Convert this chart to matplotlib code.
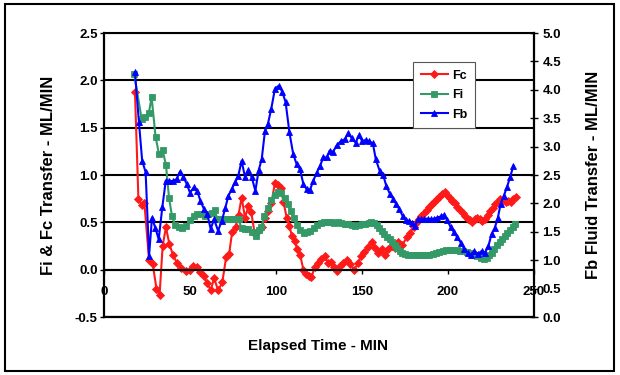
import matplotlib
matplotlib.use("Agg")
import matplotlib.pyplot as plt
from matplotlib.patches import Rectangle
from matplotlib.ticker import FormatStrFormatter, MultipleLocator

# ---------------- data ----------------
fc_t = [18.0, 20.0, 21.9, 23.5, 26.2, 28.3, 30.5, 32.3, 34.1, 36.0, 38.0, 40.2,
        42.5, 45.0, 47.5, 50.0, 52.0, 54.0, 56.0, 58.1, 60.1, 62.0, 64.0, 66.4,
        68.8, 71.0, 72.8, 74.5, 76.5, 78.2, 80.0, 82.0, 83.9, 85.6, 87.6, 89.7,
        91.7, 93.5, 95.5, 97.3, 99.4, 101.2, 102.8, 104.3, 106.2, 107.8, 109.2,
        110.8, 112.3, 114.0, 115.9, 117.5, 119.0, 120.6, 122.6, 124.5, 126.4,
        128.3, 130.3, 132.0, 133.5, 135.3, 137.2, 139.1, 141.1, 143.0, 145.5,
        147.8, 149.4, 151.3, 153.3, 155.6, 157.6, 159.5, 161.5, 163.4, 165.3,
        167.3, 169.2, 171.1, 173.4, 176.0, 178.0, 180.0, 181.5, 183.0, 184.5,
        186.0, 187.5, 189.0, 190.5, 192.0, 193.5, 195.0, 196.5, 198.0, 199.5,
        201.0, 202.5, 204.0, 205.5, 207.0, 208.5, 210.0, 211.5, 213.0, 214.0,
        215.5, 217.0, 218.5, 220.0, 221.5, 223.0, 224.5, 226.0, 227.5, 229.0,
        230.5, 232.0, 233.5, 235.0, 236.5, 238.0, 239.5]
fc_v = [1.88, 0.75, 0.68, 0.70, 0.10, 0.06, -0.20, -0.27, 0.25, 0.45, 0.27, 0.15,
        0.07, 0.02, -0.01, 0.00, 0.04, 0.03, -0.02, -0.07, -0.14, -0.22, -0.09, -0.22,
        -0.13, 0.13, 0.17, 0.40, 0.45, 0.58, 0.76, 0.55, 0.67, 0.61, 0.38, 0.41,
        0.45, 0.55, 0.62, 0.70, 0.92, 0.89, 0.86, 0.72, 0.55, 0.46, 0.36,
        0.30, 0.22, 0.16, 0.00, -0.05, -0.07, -0.08, 0.03, 0.07, 0.11,
        0.14, 0.07, 0.08, 0.03, -0.01, 0.04, 0.07, 0.10, 0.06, 0.00,
        0.07, 0.14, 0.19, 0.24, 0.29, 0.23, 0.18, 0.22, 0.16, 0.22,
        0.25, 0.23, 0.29, 0.26, 0.34, 0.39, 0.45, 0.49, 0.53, 0.57,
        0.60, 0.63, 0.66, 0.69, 0.72, 0.75, 0.77, 0.80, 0.82, 0.79,
        0.76, 0.73, 0.70, 0.66, 0.63, 0.60, 0.57, 0.54, 0.52, 0.50,
        0.53, 0.55, 0.53, 0.51, 0.54, 0.58, 0.62, 0.65, 0.69, 0.72,
        0.75, 0.74, 0.72, 0.73, 0.72, 0.75, 0.77]

fi_t = [17.5, 21.9, 23.8, 26.0, 27.7, 30.0, 32.0, 34.1, 36.0, 37.8, 39.5, 41.3,
        43.5, 45.6, 47.8, 50.0, 52.2, 54.3, 56.4, 58.5, 60.5, 62.5, 64.3, 66.0,
        68.2, 70.3, 72.3, 74.3, 76.2, 78.2, 80.0, 82.0, 84.0, 86.2, 88.2, 90.0,
        91.5, 93.2, 95.3, 97.3, 99.2, 101.0, 103.0, 105.0, 106.8, 108.5, 110.3,
        112.0, 114.0, 116.0, 118.0, 120.0, 122.0, 124.0, 126.0, 128.0, 130.0,
        132.0, 134.0, 136.0, 138.0, 140.0, 142.0, 144.0, 146.0, 148.0, 150.0,
        152.0, 154.0, 155.5, 157.0, 158.5, 160.0, 161.5, 163.0, 164.5, 166.0,
        167.5, 169.0, 170.5, 172.0, 173.5, 175.0, 177.0, 179.0, 181.0, 183.0,
        185.0, 187.0, 189.0, 191.0, 193.0, 195.0, 197.0, 199.0, 201.0, 203.0,
        205.0, 207.0, 209.0, 211.0, 213.0, 215.0, 217.0, 219.0, 221.0, 222.5,
        224.0, 225.5, 227.0, 228.5, 230.0, 231.5, 233.0, 234.5, 236.0, 237.5, 239.0]
fi_v = [2.07, 1.59, 1.61, 1.65, 1.82, 1.40, 1.22, 1.26, 1.11, 0.76, 0.57, 0.47,
        0.45, 0.44, 0.46, 0.52, 0.57, 0.59, 0.59, 0.57, 0.59, 0.60, 0.63, 0.53,
        0.53, 0.53, 0.53, 0.54, 0.54, 0.53, 0.44, 0.43, 0.43, 0.40, 0.36, 0.42,
        0.45, 0.57, 0.65, 0.74, 0.79, 0.82, 0.81, 0.76, 0.69, 0.62, 0.55,
        0.47, 0.42, 0.39, 0.40, 0.41, 0.44, 0.47, 0.49, 0.50, 0.50,
        0.50, 0.49, 0.50, 0.49, 0.48, 0.48, 0.47, 0.46, 0.47, 0.48,
        0.48, 0.49, 0.50, 0.49, 0.47, 0.44, 0.41, 0.38, 0.35, 0.32,
        0.29, 0.26, 0.23, 0.20, 0.18, 0.17, 0.16, 0.15, 0.15, 0.15,
        0.15, 0.15, 0.16, 0.17, 0.18, 0.19, 0.20, 0.21, 0.21, 0.21,
        0.21, 0.20, 0.20, 0.19, 0.18, 0.16, 0.14, 0.12, 0.11, 0.12,
        0.15, 0.18, 0.22, 0.26, 0.29, 0.32, 0.36, 0.39, 0.42, 0.45, 0.48]

fb_t = [18.0, 20.3, 22.2, 24.2, 26.2, 27.9, 29.8, 31.8, 33.9, 35.9, 37.9, 40.0,
        42.2, 44.2, 46.1, 48.1, 50.0, 52.2, 54.2, 56.0, 58.1, 60.1, 62.0, 64.0,
        66.3, 68.5, 70.5, 72.3, 74.2, 76.2, 78.1, 80.0, 82.0, 83.9, 85.9, 88.0,
        89.9, 91.7, 93.6, 95.3, 97.2, 99.4, 101.5, 103.6, 105.6, 107.8, 110.0,
        112.0, 114.0, 115.9, 117.8, 119.8, 121.7, 123.6, 125.6, 127.5, 129.5,
        131.2, 133.0, 135.3, 137.8, 140.1, 142.0, 144.0, 146.3, 148.3, 150.2,
        152.1, 154.1, 156.3, 158.0, 160.3, 162.3, 164.2, 166.2, 168.1, 169.9,
        171.7, 173.6, 175.5, 177.4, 179.2, 180.6, 182.4, 184.3, 186.2, 188.1,
        190.0, 191.9, 193.8, 195.7, 197.7, 199.6, 201.6, 203.5, 205.5, 207.4,
        209.4, 211.4, 213.4, 215.4, 217.4, 219.5, 221.5, 223.5, 225.3, 227.2,
        229.0, 230.6, 232.4, 234.2, 236.1, 238.0]
fb_v = [4.31, 3.43, 2.75, 2.55, 1.08, 1.75, 1.57, 1.37, 1.93, 2.40, 2.40, 2.39,
        2.43, 2.56, 2.47, 2.34, 2.19, 2.28, 2.22, 2.05, 1.90, 1.81, 1.55, 1.72,
        1.52, 1.69, 1.92, 2.13, 2.25, 2.37, 2.49, 2.75, 2.46, 2.58, 2.46, 2.22,
        2.58, 2.78, 3.28, 3.40, 3.66, 4.02, 4.07, 3.97, 3.78, 3.25, 2.87,
        2.69, 2.60, 2.34, 2.25, 2.24, 2.40, 2.54, 2.66, 2.81, 2.81,
        2.93, 2.90, 3.02, 3.10, 3.13, 3.24, 3.15, 3.07, 3.20, 3.09,
        3.12, 3.09, 3.06, 2.78, 2.57, 2.50, 2.30, 2.17, 2.08, 1.99,
        1.90, 1.78, 1.70, 1.69, 1.66, 1.60, 1.72, 1.72, 1.73, 1.73,
        1.72, 1.73, 1.75, 1.77, 1.80, 1.70, 1.58, 1.49, 1.40, 1.31,
        1.20, 1.13, 1.09, 1.16, 1.11, 1.16, 1.13, 1.25, 1.46, 1.57,
        1.75, 1.99, 2.13, 2.28, 2.46, 2.66]

x_ticks = [0, 50, 100, 150, 200, 250]

# ---------------- figure ----------------
FONT = "Liberation Sans"
plt.rcParams["font.family"] = [FONT, "DejaVu Sans"]
plt.rcParams["font.weight"] = "bold"

fig = plt.figure(figsize=(6.2, 3.75), dpi=100)
fig.patches.append(Rectangle((5 / 620, 4 / 375), 609 / 620, 367 / 375,
                             transform=fig.transFigure, fill=False,
                             edgecolor="black", linewidth=1.5))

ax = fig.add_axes([104 / 620, 58 / 375, 430 / 620, 284 / 375])
ax2 = ax.twinx()

RED = "#FF1A1A"
GREEN = "#339966"
BLUE = "#0000FF"

l1, = ax.plot(fc_t, fc_v, color=RED, lw=1.5, marker="D", ms=3.6,
              markeredgewidth=0.6, label="Fc")
l2, = ax.plot(fi_t, fi_v, color=GREEN, lw=1.5, marker="s", ms=4.4,
              markeredgewidth=0.6, label="Fi")
l3, = ax2.plot(fb_t, fb_v, color=BLUE, lw=1.5, marker="^", ms=5.0,
               markeredgewidth=0.6, label="Fb")

ax.set_xlim(0, 250)
ax.set_ylim(-0.5, 2.5)
ax2.set_ylim(0, 5)

ax.set_xticks(x_ticks)
ax.yaxis.set_major_locator(MultipleLocator(0.5))
ax.yaxis.set_major_formatter(FormatStrFormatter("%.1f"))
ax2.yaxis.set_major_locator(MultipleLocator(0.5))
ax2.yaxis.set_major_formatter(FormatStrFormatter("%.1f"))

ax.grid(axis="y", color="black", lw=1.5)
ax.set_axisbelow(True)

ax.spines["bottom"].set_position(("data", 0))
ax.spines["bottom"].set_linewidth(1.5)
ax.spines["left"].set_linewidth(1.6)
ax.spines["top"].set_linewidth(1.5)
ax.spines["right"].set_visible(False)
ax.axhline(-0.5, color="black", lw=1.6, clip_on=False, zorder=3)
for s in ["left", "top", "bottom"]:
    ax2.spines[s].set_visible(False)
ax2.spines["right"].set_linewidth(1.6)

ax.tick_params(axis="x", direction="out", length=3, width=1, pad=9,
               labelsize=9.5)
ax.tick_params(axis="y", direction="out", length=3, width=1, pad=1.5,
               labelsize=9.5)
ax2.tick_params(axis="y", direction="inout", length=6, width=1, pad=3,
                labelsize=9.5)
for lab in ax.get_xticklabels() + ax.get_yticklabels() + ax2.get_yticklabels():
    lab.set_fontweight("bold")

fig.text(49 / 620, 1 - 175 / 375, "Fi & Fc Transfer - ML/MIN", rotation=90,
         ha="center", va="center", fontsize=12, fontweight="bold")
fig.text(593 / 620, 1 - 175 / 375, "Fb Fluid Transfer - ML/MIN", rotation=90,
         ha="center", va="center", fontsize=12, fontweight="bold")
fig.text(318 / 620, 1 - 346 / 375, "Elapsed Time - MIN", ha="center",
         va="center", fontsize=11, fontweight="bold")

leg = ax2.legend(handles=[l1, l2, l3], loc="upper left",
                 bbox_to_anchor=((413 - 104) / 430, (317 - 62) / 284),
                 frameon=True, fancybox=False, framealpha=1,
                 edgecolor="#555555", fontsize=9, handlelength=2.2,
                 borderpad=0.6, labelspacing=0.6, handletextpad=0.3,
                 borderaxespad=0)
leg.get_frame().set_linewidth(0.8)
for t in leg.get_texts():
    t.set_fontweight("bold")

fig.savefig("out.png", dpi=100, facecolor="white")
